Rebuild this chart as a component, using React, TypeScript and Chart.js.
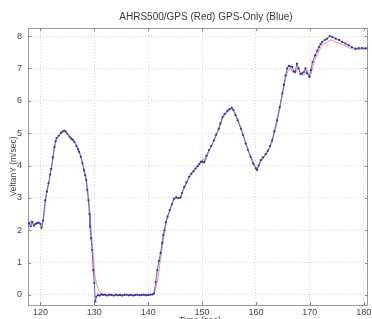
import React, { useEffect, useRef } from "react";
import { Chart, registerables } from "chart.js";

Chart.register(...registerables);

const titleText = "AHRS500/GPS (Red) GPS-Only (Blue)";
const xAxisLabel = "Time (sec)";
const yAxisLabel = "VeltanY (m/sec)";
const xTickValues = [120, 130, 140, 150, 160, 170, 180];
const yTickValues = [0, 1, 2, 3, 4, 5, 6, 7, 8];

const blueTime = [
  117.6, 117.9, 118.2, 118.5, 118.8, 119.1, 119.4, 119.7, 120.0, 120.2, 120.5, 120.9, 121.2, 121.5, 121.8,
  122.0, 122.3, 122.6, 122.8, 123.0, 123.4, 123.8, 124.1, 124.4, 124.7, 125.0, 125.4, 125.7, 126.0, 126.3,
  126.7, 127.0, 127.2, 127.5, 127.8, 128.1, 128.3, 128.5, 128.7, 128.9, 129.1, 129.2, 129.4, 129.6, 129.8,
  130.0, 130.2, 130.4, 130.7, 131.0, 131.3, 131.6, 132.0, 132.4, 132.8, 133.2, 133.6, 134.0, 134.4, 134.8,
  135.2, 135.6, 136.0, 136.4, 136.8, 137.2, 137.6, 138.0, 138.4, 138.8, 139.2, 139.6, 140.0, 140.4, 140.8,
  141.1, 141.4, 141.7, 142.0, 142.3, 142.6, 142.8, 143.0, 143.3, 143.6, 144.0, 144.4, 144.8, 145.2, 145.6,
  146.0, 146.3, 146.7, 147.1, 147.6, 148.0, 148.4, 148.8, 149.2, 149.5, 149.8, 150.1, 150.4, 150.8, 151.3,
  151.7, 152.2, 152.6, 153.1, 153.4, 153.8, 154.2, 154.7, 155.1, 155.5, 155.8, 156.2, 156.6, 157.2, 157.6,
  158.1, 158.5, 159.0, 159.5, 160.0, 160.2, 160.5, 160.9, 161.3, 161.8, 162.2, 162.6, 163.0, 163.4, 163.9,
  164.4, 164.9, 165.2, 165.5, 165.8, 166.1, 166.4, 166.7, 167.0, 167.3, 167.6, 167.9, 168.3, 168.6, 168.9,
  169.2, 169.5, 169.9, 170.2, 170.5, 171.0, 171.4, 171.7, 172.0, 172.3, 172.8, 173.2, 173.7, 174.2, 174.8,
  175.4, 176.0, 176.6, 177.2, 177.8, 178.5, 179.1, 179.7, 180.3, 180.9,
];
const blueVel = [
  2.13, 2.22, 2.12, 2.26, 2.14, 2.2, 2.22, 2.24, 2.2, 2.07, 2.3, 2.93, 3.2, 3.45, 3.72,
  3.9, 4.25, 4.57, 4.75, 4.85, 4.92, 5.0, 5.05, 5.08, 5.05, 4.98, 4.89, 4.83, 4.8, 4.73,
  4.6, 4.5, 4.42, 4.27, 4.07, 3.85, 3.7, 3.55, 3.25, 2.93, 2.5, 2.11, 1.75, 1.39, 0.77,
  0.37, -0.2, -0.05, 0.0, -0.02, 0.02, 0.0, 0.01, -0.02, 0.01, 0.0, -0.02, 0.01, -0.01, 0.0,
  -0.02, 0.0, 0.01, -0.01, 0.0, -0.02, 0.0, 0.01, -0.01, 0.0, 0.01, -0.01, 0.0, 0.01, 0.02,
  0.05, 0.4, 0.77, 1.05, 1.3, 1.6, 1.85, 2.0, 2.25, 2.42, 2.62, 2.8, 2.98, 3.02, 2.99,
  3.01, 3.15, 3.34, 3.48, 3.65, 3.75, 3.83, 3.91, 3.98, 4.05, 4.11, 4.12, 4.1, 4.3, 4.48,
  4.6, 4.78, 4.95, 5.14, 5.3, 5.5, 5.6, 5.69, 5.74, 5.79, 5.72, 5.56, 5.4, 5.14, 4.95,
  4.68, 4.48, 4.27, 4.05, 3.91, 3.86, 4.0, 4.17, 4.25, 4.35, 4.45, 4.6, 4.78, 5.05, 5.4,
  5.8, 6.23, 6.5, 6.79, 7.0, 7.08, 7.06, 7.05, 6.92, 6.89, 7.15, 7.0, 6.82, 6.85, 6.89,
  7.0, 6.85, 6.74, 6.95, 7.2, 7.41, 7.55, 7.66, 7.75, 7.82, 7.88, 7.92, 8.0, 7.97, 7.92,
  7.88, 7.82, 7.77, 7.72, 7.66, 7.61, 7.63, 7.63, 7.62, 7.63,
];

const redTime = [
  117.6, 118.0, 118.3, 118.7, 119.1, 119.5, 119.9, 120.3, 120.6, 121.0, 121.5, 122.0, 122.5, 123.0, 123.5,
  124.0, 124.5, 125.0, 125.5, 126.0, 126.5, 127.0, 127.5, 128.0, 128.5, 128.9, 129.2, 129.5, 129.8, 130.1,
  130.4, 130.7, 131.0, 131.4, 132.0, 133.0, 134.0, 135.0, 136.0, 137.0, 138.0, 139.0, 140.0, 141.0, 141.4,
  141.8, 142.2, 142.6, 143.0, 143.5, 144.0, 144.8, 145.5, 146.0, 146.7, 147.6, 148.8, 149.8, 150.3, 150.6,
  151.3, 152.2, 153.1, 153.8, 154.7, 155.5, 156.0, 156.5, 157.2, 158.1, 159.0, 160.0, 160.3, 160.9, 161.8,
  162.6, 163.0, 163.9, 164.9, 165.5, 166.0, 166.5, 167.0, 167.5, 167.9, 168.4, 169.0, 169.5, 170.0, 170.5,
  171.0, 171.7, 172.3, 173.2, 173.9, 174.8, 176.0, 177.2, 178.5, 179.7, 180.9,
];
const redVel = [
  2.15, 2.18, 2.3, 2.15, 2.2, 2.25, 2.2, 2.1, 2.35, 2.95, 3.4, 3.85, 4.4, 4.8, 4.95,
  5.02, 5.05, 5.0, 4.9, 4.82, 4.7, 4.52, 4.3, 3.98, 3.62, 3.1, 2.5, 1.85, 1.2, 0.6,
  0.35, 0.2, 0.1, 0.03, 0.0, 0.0, -0.01, 0.0, 0.0, -0.01, 0.0, 0.0, 0.0, 0.0, 0.2,
  0.5, 1.0, 1.45, 1.9, 2.35, 2.6, 2.95, 3.0, 3.05, 3.3, 3.62, 3.88, 4.15, 4.2, 4.12,
  4.45, 4.75, 5.1, 5.45, 5.65, 5.75, 5.7, 5.5, 5.18, 4.72, 4.3, 3.95, 3.9, 4.12, 4.3,
  4.55, 4.72, 5.3, 6.15, 6.7, 6.95, 7.0, 6.85, 6.9, 7.05, 6.8, 6.8, 6.95, 6.7, 7.0,
  7.3, 7.55, 7.72, 7.82, 7.88, 7.82, 7.74, 7.65, 7.58, 7.6, 7.6,
];

const FONT = "'Liberation Sans', Arial, sans-serif";

const decorPlugin = {
  id: "decor",
  beforeDatasetsDraw(chart: any) {
    const { ctx, chartArea: a, scales } = chart;
    ctx.save();
    ctx.strokeStyle = "#9a9a9a";
    ctx.lineWidth = 1;
    ctx.strokeRect(Math.round(a.left) + 0.5, Math.round(a.top) + 0.5, Math.round(a.right - a.left) - 1, Math.round(a.bottom - a.top));
    ctx.strokeStyle = "#888";
    ctx.beginPath();
    for (const v of xTickValues) {
      const x = Math.round(scales.x.getPixelForValue(v)) + 0.5;
      ctx.moveTo(x, a.bottom);
      ctx.lineTo(x, a.bottom - 3);
      ctx.moveTo(x, a.top);
      ctx.lineTo(x, a.top + 3);
    }
    for (const v of yTickValues) {
      const y = Math.round(scales.y.getPixelForValue(v)) + 0.5;
      ctx.moveTo(a.left, y);
      ctx.lineTo(a.left + 3, y);
      ctx.moveTo(a.right, y);
      ctx.lineTo(a.right - 3, y);
    }
    ctx.stroke();
    ctx.restore();
  },
  afterDraw(chart: any) {
    const { ctx, chartArea: a } = chart;
    ctx.save();
    ctx.fillStyle = "#3a3a3a";
    ctx.font = `10px ${FONT}`;
    ctx.textAlign = "center";
    ctx.textBaseline = "middle";
    ctx.fillText(titleText, 206, 17);
    ctx.font = `9px ${FONT}`;
    ctx.fillStyle = "#444";
    ctx.fillText(xAxisLabel, 200, 321);
    ctx.font = `8.5px ${FONT}`;
    ctx.translate(14, (a.top + a.bottom) / 2);
    ctx.rotate(-Math.PI / 2);
    ctx.fillText(yAxisLabel, 0, 0);
    ctx.restore();
  },
};

export default function App() {
  const ref = useRef<HTMLCanvasElement | null>(null);
  useEffect(() => {
    if (!ref.current) return;
    const blue = blueTime.map((t, i) => ({ x: t, y: blueVel[i] }));
    const red = redTime.map((t, i) => ({ x: t, y: redVel[i] }));
    const chart = new Chart(ref.current, {
      type: "line",
      data: {
        datasets: [
          {
            label: "GPS-Only",
            data: blue,
            borderColor: "#6262d4",
            borderWidth: 1,
            pointRadius: 1.1,
            pointBackgroundColor: "#33339f",
            pointBorderWidth: 0,
            tension: 0,
            order: 1,
          },
          {
            label: "AHRS500/GPS",
            data: red,
            borderColor: "rgba(215,120,120,0.9)",
            borderWidth: 0.9,
            pointRadius: 0,
            tension: 0,
            order: 2,
          },
        ],
      },
      options: {
        responsive: false,
        animation: false,
        devicePixelRatio: 1,
        layout: { padding: { top: 28, left: 0, right: 0, bottom: 0 } },
        plugins: { legend: { display: false }, title: { display: false }, tooltip: { enabled: false } },
        scales: {
          x: {
            type: "linear",
            min: 117.7,
            max: 180.8,
            afterBuildTicks: (s: any) => {
              s.ticks = xTickValues.map((v) => ({ value: v }));
            },
            afterFit: (s: any) => {
              s.height = 14;
              s.paddingLeft = 0;
              s.paddingRight = 0;
            },
            ticks: { color: "#444", font: { size: 9, family: FONT }, padding: 2, maxRotation: 0, autoSkip: false },
            grid: { color: "#d4d4d4", drawTicks: false, lineWidth: 1 },
            border: { display: false, dash: [1, 2] },
          },
          y: {
            type: "linear",
            min: -0.31,
            max: 8.25,
            afterBuildTicks: (s: any) => {
              s.ticks = yTickValues.map((v) => ({ value: v }));
            },
            afterFit: (s: any) => {
              s.width = 28;
              s.paddingTop = 0;
              s.paddingBottom = 0;
            },
            ticks: { color: "#444", font: { size: 9, family: FONT }, padding: 6, autoSkip: false },
            grid: { color: "#d4d4d4", drawTicks: false, lineWidth: 1 },
            border: { display: false, dash: [1, 2] },
          },
        },
      },
      plugins: [decorPlugin],
    } as any);
    return () => chart.destroy();
  }, []);
  return (
    <div style={{ position: "absolute", left: 0, top: 0, width: 372, height: 319, background: "#fff" }}>
      <canvas ref={ref} width={372} height={319} style={{ display: "block" }} />
    </div>
  );
}
